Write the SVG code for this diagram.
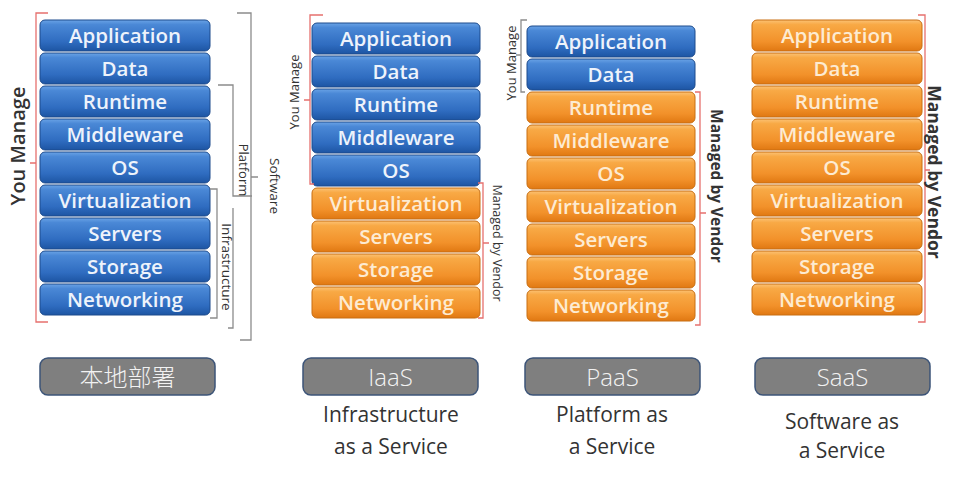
<svg xmlns="http://www.w3.org/2000/svg" width="958" height="480" viewBox="0 0 958 480">
<defs>
<linearGradient id="gb" x1="0" y1="0" x2="0" y2="1">
<stop offset="0" stop-color="#6aa3e6"/><stop offset="0.15" stop-color="#4a88d6"/><stop offset="0.7" stop-color="#2f6cc0"/><stop offset="1" stop-color="#1d55a3"/>
</linearGradient>
<linearGradient id="go" x1="0" y1="0" x2="0" y2="1">
<stop offset="0" stop-color="#fcc274"/><stop offset="0.15" stop-color="#f8a945"/><stop offset="0.7" stop-color="#f2912a"/><stop offset="1" stop-color="#e07812"/>
</linearGradient>
</defs>
<style>
.b{fill:url(#gb);stroke:#1c4a8c;stroke-width:1}
.o{fill:url(#go);stroke:#c86e12;stroke-width:1}
.t{font-family:"Open Sans","Noto Sans",sans-serif;font-size:20.5px;font-weight:600;text-anchor:middle}
.tb{fill:#eef3fb}
.to{fill:#fdebd2}
.br{fill:none;stroke:#e6706e;stroke-width:1.3}
.bg{fill:none;stroke:#8c8c8c;stroke-width:1.3}
.lab{font-family:"Open Sans","Noto Sans",sans-serif;fill:#333;text-anchor:middle;dominant-baseline:central}
.lb{fill:#7f7f7f;stroke:#3c5478;stroke-width:1.5}
.lt{font-family:"Open Sans","Noto Sans","Noto Sans CJK SC",sans-serif;font-size:24px;fill:#f2f2f2;text-anchor:middle;font-weight:300}
.st{font-family:"Open Sans","Noto Sans",sans-serif;font-size:21px;fill:#333;text-anchor:middle}
</style>
<rect width="958" height="480" fill="#ffffff"/>

<!-- Column 1: on-premise -->
<g id="c1">
<g id="c1-application"><rect class="b" x="40" y="20" width="170" height="31" rx="5"/><text class="t tb" x="125" y="43">Application</text></g>
<g id="c1-data"><rect class="b" x="40" y="53" width="170" height="31" rx="5"/><text class="t tb" x="125" y="76">Data</text></g>
<g id="c1-runtime"><rect class="b" x="40" y="86" width="170" height="31" rx="5"/><text class="t tb" x="125" y="109">Runtime</text></g>
<g id="c1-middleware"><rect class="b" x="40" y="119" width="170" height="31" rx="5"/><text class="t tb" x="125" y="142">Middleware</text></g>
<g id="c1-os"><rect class="b" x="40" y="152" width="170" height="31" rx="5"/><text class="t tb" x="125" y="175">OS</text></g>
<g id="c1-virtualization"><rect class="b" x="40" y="185" width="170" height="31" rx="5"/><text class="t tb" x="125" y="208">Virtualization</text></g>
<g id="c1-servers"><rect class="b" x="40" y="218" width="170" height="31" rx="5"/><text class="t tb" x="125" y="241">Servers</text></g>
<g id="c1-storage"><rect class="b" x="40" y="251" width="170" height="31" rx="5"/><text class="t tb" x="125" y="274">Storage</text></g>
<g id="c1-networking"><rect class="b" x="40" y="284" width="170" height="31" rx="5"/><text class="t tb" x="125" y="307">Networking</text></g>
</g>

<!-- Column 2: IaaS -->
<g id="c2">
<g id="c2-application"><rect class="b" x="312" y="23" width="168" height="31" rx="5"/><text class="t tb" x="396" y="46">Application</text></g>
<g id="c2-data"><rect class="b" x="312" y="56" width="168" height="31" rx="5"/><text class="t tb" x="396" y="79">Data</text></g>
<g id="c2-runtime"><rect class="b" x="312" y="89" width="168" height="31" rx="5"/><text class="t tb" x="396" y="112">Runtime</text></g>
<g id="c2-middleware"><rect class="b" x="312" y="122" width="168" height="31" rx="5"/><text class="t tb" x="396" y="145">Middleware</text></g>
<g id="c2-os"><rect class="b" x="312" y="155" width="168" height="31" rx="5"/><text class="t tb" x="396" y="178">OS</text></g>
<g id="c2-virtualization"><rect class="o" x="312" y="188" width="168" height="31" rx="5"/><text class="t to" x="396" y="211">Virtualization</text></g>
<g id="c2-servers"><rect class="o" x="312" y="221" width="168" height="31" rx="5"/><text class="t to" x="396" y="244">Servers</text></g>
<g id="c2-storage"><rect class="o" x="312" y="254" width="168" height="31" rx="5"/><text class="t to" x="396" y="277">Storage</text></g>
<g id="c2-networking"><rect class="o" x="312" y="287" width="168" height="31" rx="5"/><text class="t to" x="396" y="310">Networking</text></g>
</g>

<!-- Column 3: PaaS -->
<g id="c3">
<g id="c3-application"><rect class="b" x="527" y="26" width="168" height="31" rx="5"/><text class="t tb" x="611" y="49">Application</text></g>
<g id="c3-data"><rect class="b" x="527" y="59" width="168" height="31" rx="5"/><text class="t tb" x="611" y="82">Data</text></g>
<g id="c3-runtime"><rect class="o" x="527" y="92" width="168" height="31" rx="5"/><text class="t to" x="611" y="115">Runtime</text></g>
<g id="c3-middleware"><rect class="o" x="527" y="125" width="168" height="31" rx="5"/><text class="t to" x="611" y="148">Middleware</text></g>
<g id="c3-os"><rect class="o" x="527" y="158" width="168" height="31" rx="5"/><text class="t to" x="611" y="181">OS</text></g>
<g id="c3-virtualization"><rect class="o" x="527" y="191" width="168" height="31" rx="5"/><text class="t to" x="611" y="214">Virtualization</text></g>
<g id="c3-servers"><rect class="o" x="527" y="224" width="168" height="31" rx="5"/><text class="t to" x="611" y="247">Servers</text></g>
<g id="c3-storage"><rect class="o" x="527" y="257" width="168" height="31" rx="5"/><text class="t to" x="611" y="280">Storage</text></g>
<g id="c3-networking"><rect class="o" x="527" y="290" width="168" height="31" rx="5"/><text class="t to" x="611" y="313">Networking</text></g>
</g>

<!-- Column 4: SaaS -->
<g id="c4">
<g id="c4-application"><rect class="o" x="752" y="20" width="170" height="31" rx="5"/><text class="t to" x="837" y="43">Application</text></g>
<g id="c4-data"><rect class="o" x="752" y="53" width="170" height="31" rx="5"/><text class="t to" x="837" y="76">Data</text></g>
<g id="c4-runtime"><rect class="o" x="752" y="86" width="170" height="31" rx="5"/><text class="t to" x="837" y="109">Runtime</text></g>
<g id="c4-middleware"><rect class="o" x="752" y="119" width="170" height="31" rx="5"/><text class="t to" x="837" y="142">Middleware</text></g>
<g id="c4-os"><rect class="o" x="752" y="152" width="170" height="31" rx="5"/><text class="t to" x="837" y="175">OS</text></g>
<g id="c4-virtualization"><rect class="o" x="752" y="185" width="170" height="31" rx="5"/><text class="t to" x="837" y="208">Virtualization</text></g>
<g id="c4-servers"><rect class="o" x="752" y="218" width="170" height="31" rx="5"/><text class="t to" x="837" y="241">Servers</text></g>
<g id="c4-storage"><rect class="o" x="752" y="251" width="170" height="31" rx="5"/><text class="t to" x="837" y="274">Storage</text></g>
<g id="c4-networking"><rect class="o" x="752" y="284" width="170" height="31" rx="5"/><text class="t to" x="837" y="307">Networking</text></g>
</g>

<!-- Brackets -->
<g id="connectors">
<path class="br" d="M48,13 H36 V322 H48 M36,163 H30"/>
<path class="bg" d="M237,13 H251 V340 H240 M251,177 H258"/>
<path class="bg" d="M218,85 H233 V196 H252"/>
<path class="bg" d="M210,189 H217 V318 H210"/>
<path class="bg" d="M233,208 V328 H228"/>
<path class="br" d="M323,15 H310 V184 H314 M310,100 H304"/>
<path class="br" d="M478,183 H483 V318 H478 M483,243 H489"/>
<path class="bg" d="M527,20 H521 V92 H525 M521,55 H516"/>
<path class="br" d="M695,92 H700 V325 H695 M700,213 H706"/>
<path class="br" d="M918,15 H925 V322 H918 M925,170 H930"/>
</g>

<!-- Bracket labels -->
<g id="bracket-labels">
<text class="lab" font-size="20" font-weight="600" transform="translate(17,146) rotate(-90)">You Manage</text>
<text class="lab" font-size="13.5" fill="#444" transform="translate(275,186) rotate(90)">Software</text>
<text class="lab" font-size="13" transform="translate(244,170) rotate(90)">Platform</text>
<text class="lab" font-size="13.5" transform="translate(227,267) rotate(90)">Infrastructure</text>
<text class="lab" font-size="13" transform="translate(294,92) rotate(-90)">You Manage</text>
<text class="lab" font-size="12.5" transform="translate(497,243) rotate(90)">Managed by Vendor</text>
<text class="lab" font-size="13" transform="translate(511,63) rotate(-90)">You Manage</text>
<text class="lab" font-size="15.5" font-weight="700" fill="#222" transform="translate(717,186) rotate(90)">Managed by Vendor</text>
<text class="lab" font-size="17.5" font-weight="700" fill="#222" transform="translate(935,172) rotate(90)">Managed by Vendor</text>
</g>

<!-- Bottom labels -->
<g id="label-onprem"><rect class="lb" x="40" y="358" width="175" height="37" rx="8"/><text class="lt" x="127.5" y="386">本地部署</text></g>
<g id="label-iaas"><rect class="lb" x="303" y="358" width="175" height="37" rx="8"/><text class="lt" x="390.5" y="386">IaaS</text>
<text class="st" x="391" y="422">Infrastructure</text><text class="st" x="391" y="454">as a Service</text></g>
<g id="label-paas"><rect class="lb" x="525" y="358" width="175" height="37" rx="8"/><text class="lt" x="612.5" y="386">PaaS</text>
<text class="st" x="612" y="422">Platform as</text><text class="st" x="612" y="454">a Service</text></g>
<g id="label-saas"><rect class="lb" x="755" y="358" width="175" height="37" rx="8"/><text class="lt" x="842.5" y="386">SaaS</text>
<text class="st" x="842" y="429">Software as</text><text class="st" x="842" y="458">a Service</text></g>
</svg>
